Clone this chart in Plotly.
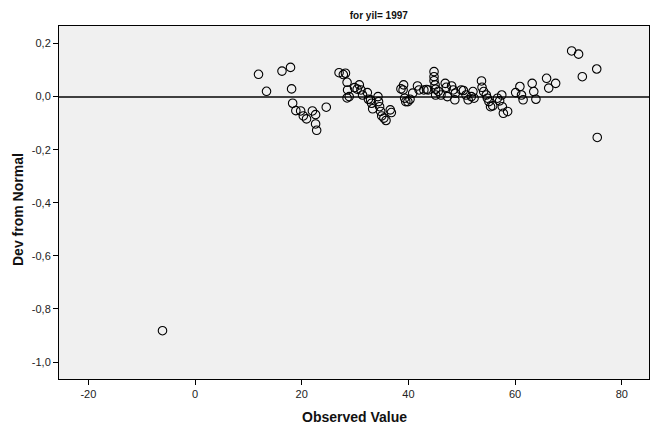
import plotly.graph_objects as go

observed = [-6.1, 11.9, 13.4, 16.3, 17.9, 18.1, 18.3, 18.9, 19.8, 20.3, 20.9, 22.0, 22.6, 22.6, 22.8, 24.6,
            27.0, 27.8, 28.2, 28.5, 28.6, 28.9, 28.5, 29.9, 30.8, 31.1, 30.4, 31.4, 32.3, 32.5, 32.9, 33.3,
            33.1, 34.3, 34.4, 34.6, 34.8, 35.0, 35.4, 35.8, 36.6, 36.8, 38.6, 39.1, 39.0, 39.3, 39.5, 39.9,
            40.3, 40.8, 41.7, 42.0, 42.9, 43.4, 43.7, 44.8, 44.8, 44.8, 45.0, 45.1, 45.1, 45.6, 46.1, 46.9,
            47.1, 47.3, 48.1, 48.4, 48.7, 48.8, 49.9, 50.3, 50.8, 51.2, 51.8, 52.1, 52.3, 53.7, 53.8, 54.1,
            54.6, 54.8, 55.1, 55.4, 55.8, 56.7, 57.1, 57.5, 57.6, 57.8, 58.6, 60.1, 60.9, 61.2, 61.5, 63.2,
            63.5, 63.9, 65.9, 66.3, 67.6, 70.6, 71.9, 72.6, 75.3, 75.4]
deviation = [-0.882, 0.084, 0.020, 0.096, 0.110, 0.029, -0.025, -0.053, -0.054, -0.073, -0.084, -0.054, -0.068, -0.103, -0.127, -0.040,
             0.090, 0.083, 0.088, 0.054, 0.025, 0.000, -0.005, 0.034, 0.044, 0.025, 0.028, 0.006, 0.015, -0.010, -0.012, -0.046,
             -0.025, 0.000, -0.019, -0.038, -0.056, -0.073, -0.081, -0.090, -0.050, -0.060, 0.029, 0.044, 0.025, -0.006, -0.019, -0.019,
             -0.010, 0.013, 0.040, 0.025, 0.025, 0.027, 0.025, 0.094, 0.075, 0.060, 0.044, 0.028, 0.006, 0.020, 0.006, 0.050,
             0.035, 0.000, 0.040, 0.025, -0.012, 0.013, 0.025, 0.023, 0.006, -0.012, 0.000, 0.019, -0.006, 0.059, 0.035, 0.019,
             0.006, -0.006, -0.019, -0.038, -0.035, -0.006, -0.016, 0.006, -0.038, -0.063, -0.056, 0.015, 0.038, 0.006, -0.012, 0.050,
             0.019, -0.010, 0.069, 0.032, 0.050, 0.172, 0.160, 0.075, 0.104, -0.154]

x_ticks = [-20, 0, 20, 40, 60, 80]
y_ticks = [0.2, 0.0, -0.2, -0.4, -0.6, -0.8, -1.0]

x_ticktext = [str(v) for v in x_ticks]
y_ticktext = [f"{v:.1f}".replace(".", ",") for v in y_ticks]

FONT = "Liberation Sans, Arial, sans-serif"
TICKFONT = dict(size=11, family=FONT, color="#222222")

fig = go.Figure()
fig.add_trace(go.Scatter(
    x=observed, y=deviation, mode="markers",
    marker=dict(symbol="circle-open", size=8.5, color="black", line=dict(width=1.1, color="black")),
    hoverinfo="x+y", showlegend=False,
))

fig.update_layout(
    width=653, height=430,
    margin=dict(l=59, r=4, t=26, b=51),
    paper_bgcolor="white",
    plot_bgcolor="#F0F0F0",
    font=dict(family=FONT, size=11, color="#222222"),
    title=dict(text="<b>for yil= 1997</b>", x=0.542, xanchor="center", y=1 - 15 / 430, yanchor="middle",
               yref="container", xref="paper", font=dict(size=10, family=FONT, color="#111111")),
    xaxis=dict(range=[-25.5, 85.1], tickvals=x_ticks, ticktext=x_ticktext, ticks="outside", ticklen=5,
               tickcolor="black", showline=True, linecolor="black", linewidth=1, mirror=True, showgrid=False,
               zeroline=False, tickfont=TICKFONT),
    yaxis=dict(range=[-1.064, 0.266], tickvals=y_ticks, ticktext=y_ticktext, ticks="outside", ticklen=5,
               tickcolor="black", showline=True, linecolor="black", linewidth=1, mirror=True, showgrid=False,
               zeroline=True, zerolinecolor="#404040", zerolinewidth=2, tickfont=TICKFONT),
    annotations=[
        dict(text="<b>Observed Value</b>", xref="paper", yref="paper", x=0.5, y=-(417 - 379) / 353,
             xanchor="center", yanchor="middle", showarrow=False, font=dict(size=14, family=FONT, color="#111111")),
        dict(text="<b>Dev from Normal</b>", xref="paper", yref="paper", x=-(59 - 18) / 590, y=0.5 + (202.5 - 210) / 353,
             xanchor="center", yanchor="middle", textangle=-90, showarrow=False,
             font=dict(size=14, family=FONT, color="#111111")),
    ],
)

fig.write_html("out.html")
